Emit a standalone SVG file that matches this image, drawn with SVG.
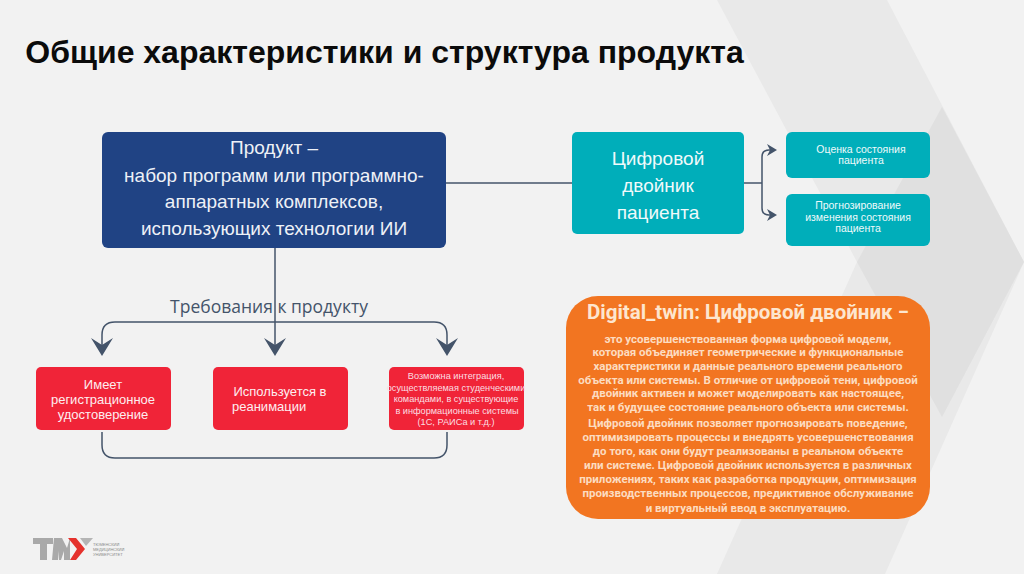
<svg xmlns="http://www.w3.org/2000/svg" width="1024" height="574" viewBox="0 0 1024 574">
<style>
text{font-family:"Liberation Sans",Arial,sans-serif;text-anchor:middle}
.big{font-size:19px;fill:#f0fafb}
.n15{font-size:19px;fill:#eef1f7}
.r{font-size:13px;fill:#fdeef0}
.t{font-size:10.5px;fill:#eefafb}
.s{font-size:9.2px;fill:#fbdfe2}
.o{font-family:Roboto,"Liberation Sans",sans-serif;font-size:11.5px;font-weight:700;fill:#fcdcc0}
.c{fill:none;stroke:#44546a;stroke-width:1.5}
.l{font-size:4px;fill:#8a8a8a;text-anchor:start}
</style>
<defs>
<marker id="v" viewBox="0 0 22 18" markerWidth="22" markerHeight="18" refX="11" refY="9" markerUnits="userSpaceOnUse" orient="0"><path d="M0 0 11 7 22 0 11 18Z" fill="#44546a"/></marker>
<marker id="h" viewBox="0 0 14 12" markerWidth="14" markerHeight="12" refX="7" refY="6" markerUnits="userSpaceOnUse" orient="0"><path d="M3 0 13 6 3 12 6 6Z" fill="#44546a"/></marker>
</defs>
<rect width="1024" height="574" fill="#f2f2f2"/>
<g id="background">
<path d="M717 0H887L1024 262 885 574H717L857 262Z" fill="#e9e9e9"/>
<path d="M942 107 1024 262 942 417 857 262Z" fill="#e0e0e0"/>
</g>
<text x="384.500" y="63" font-size="32" font-weight="700" fill="#0b0b0b">Общие характеристики и структура продукта</text>
<g id="connectors">
<path class="c" d="M275 248V347" marker-end="url(#v)"/>
<path class="c" d="M275 322H115Q102 322 102 335V347" marker-end="url(#v)"/>
<path class="c" d="M275 322H434Q447 322 447 335V347" marker-end="url(#v)"/>
<path class="c" d="M102 432V445Q102 458 115 458H434Q447 458 447 445V432"/>
<path class="c" d="M446 183H572"/>
<path class="c" d="M744 183H762"/>
<path class="c" d="M762 183V157Q762 150 769 150H771" marker-end="url(#h)"/>
<path class="c" d="M762 183V208Q762 215 769 215H771" marker-end="url(#h)"/>
</g>
<g id="product"><rect x="102" y="132" width="344" height="116" rx="6" fill="#204384"/>
<text class="n15" x="274" y="154">Продукт –</text>
<text class="n15" x="274" y="182">набор программ или программно-</text>
<text class="n15" x="274" y="208">аппаратных комплексов,</text>
<text class="n15" x="274" y="235">использующих технологии ИИ</text></g>
<g id="twin"><rect x="572" y="132" width="172" height="102" rx="5" fill="#00aeba"/>
<text class="big" x="658" y="165">Цифровой</text><text class="big" x="658" y="192">двойник</text><text class="big" x="658" y="219">пациента</text></g>
<g id="assess"><rect x="786" y="132" width="144" height="46" rx="6" fill="#00aeba"/>
<text class="t" x="861" y="153">Оценка состояния</text><text class="t" x="861" y="164">пациента</text></g>
<g id="forecast"><rect x="786" y="194" width="144" height="52" rx="6" fill="#00aeba"/>
<text class="t" x="858" y="209">Прогнозирование</text><text class="t" x="858" y="221">изменения состояния</text><text class="t" x="858" y="232">пациента</text></g>
<text id="req" x="269" y="313" font-size="17.5" fill="#44546a" style="font-family:'Open Sans','DejaVu Sans',sans-serif">Требования к продукту</text>
<g id="r1"><rect x="36" y="367" width="135" height="63" rx="5" fill="#f02438"/>
<text class="r" x="103" y="389">Имеет</text><text class="r" x="103" y="404">регистрационное</text><text class="r" x="103" y="419">удостоверение</text></g>
<g id="r2"><rect x="213" y="367" width="135" height="63" rx="5" fill="#f02438"/>
<text class="r" x="280" y="396">Используется в</text><text class="r" x="232" y="411" style="text-anchor:start">реанимации</text></g>
<g id="r3"><rect x="389" y="367" width="135" height="63" rx="5" fill="#f02438"/>
<text class="s" x="456" y="379">Возможна интеграция,</text><text class="s" x="456" y="391">осуществляемая студенческими</text><text class="s" x="456" y="402">командами, в существующие</text><text class="s" x="457" y="414">в информационные системы</text><text class="s" x="456" y="425">(1С, РАИСа и т.д.)</text></g>
<g id="digital"><rect x="566" y="296" width="364" height="223" rx="32" fill="#f27521"/>
<text x="748" y="319" font-size="20.500" font-weight="700" fill="#fde6cf" style="font-family:Roboto,'Liberation Sans',sans-serif">Digital_twin: Цифровой двойник −</text>
<text class="o" x="748" y="343">это усовершенствованная форма цифровой модели,</text>
<text class="o" x="748" y="356">которая объединяет геометрические и функциональные</text>
<text class="o" x="748" y="370">характеристики и данные реального времени реального</text>
<text class="o" x="748" y="384">объекта или системы. В отличие от цифровой тени, цифровой</text>
<text class="o" x="748" y="397">двойник активен и может моделировать как настоящее,</text>
<text class="o" x="748" y="411">так и будущее состояние реального объекта или системы.</text>
<text class="o" x="748" y="427">Цифровой двойник позволяет прогнозировать поведение,</text>
<text class="o" x="748" y="441">оптимизировать процессы и внедрять усовершенствования</text>
<text class="o" x="748" y="455">до того, как они будут реализованы в реальном объекте</text>
<text class="o" x="748" y="469">или системе. Цифровой двойник используется в различных</text>
<text class="o" x="748" y="483">приложениях, таких как разработка продукции, оптимизация</text>
<text class="o" x="748" y="497">производственных процессов, предиктивное обслуживание</text>
<text class="o" x="748" y="512">и виртуальный ввод в эксплуатацию.</text>
</g>
<g id="logo">
<path d="M33 538H53V544H47V560H40V544H33Z" fill="#a9a9a9"/>
<path d="M54 538H62L67 548 70 538V560H64V551L61 560H59L58 551V560H52Z" fill="#a9a9a9"/>
<path d="M68 538H76L85 549 76 560H70L77 549Z" fill="#e5322d"/>
<path d="M80 538H93L86 546Z" fill="#b5b5b5"/>
<text class="l" x="93" y="546">ТЮМЕНСКИЙ</text>
<text class="l" x="93" y="551">МЕДИЦИНСКИЙ</text>
<text class="l" x="93" y="556">УНИВЕРСИТЕТ</text>
</g>
</svg>
